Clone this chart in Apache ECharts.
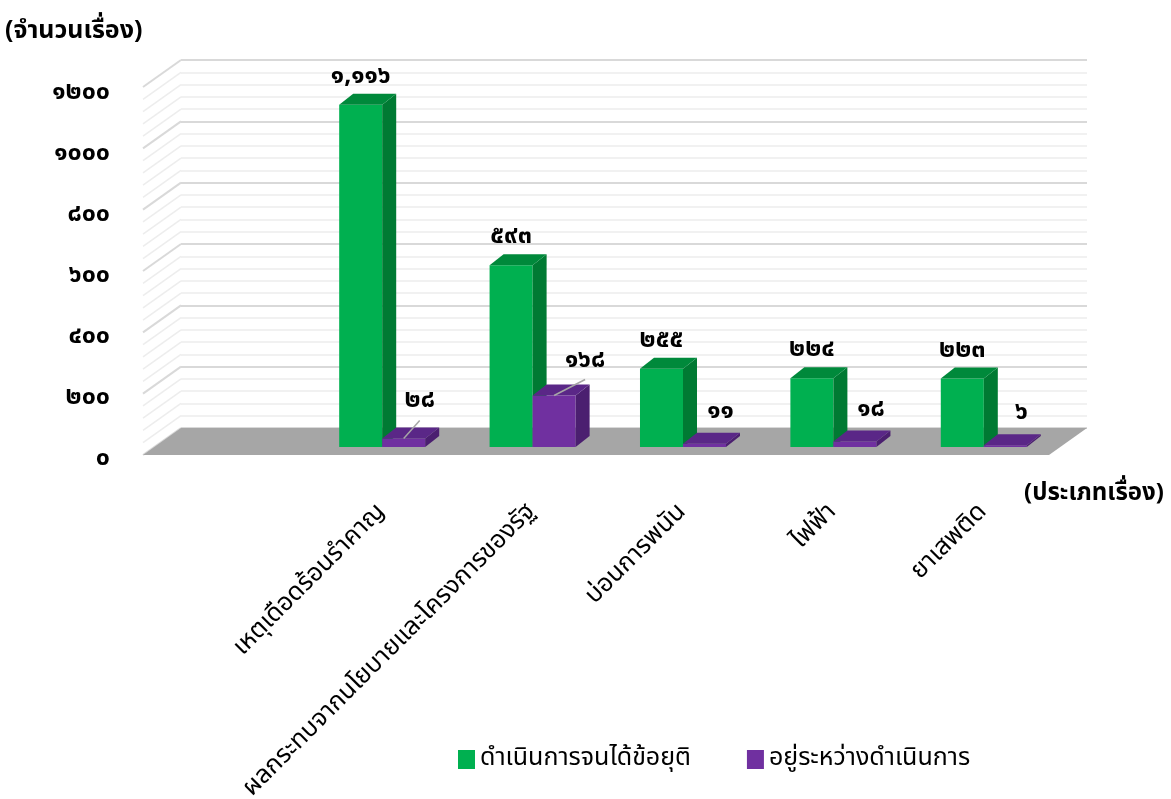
<!DOCTYPE html>
<html>
<head>
<meta charset="utf-8">
<script src="https://cdn.jsdelivr.net/npm/echarts@6/dist/echarts.min.js"></script>
<style>
html, body { margin: 0; padding: 0; background: #fff; }
#chart { width: 1171px; height: 799px; }
</style>
</head>
<body>
<div id="chart"></div>
<script>
// data
const categories = ['เหตุเดือดร้อนรำคาญ', 'ผลกระทบจากนโยบายและโครงการของรัฐ', 'บ่อนการพนัน', 'ไฟฟ้า', 'ยาเสพติด'];
const doneValues = [1116, 593, 255, 224, 223];
const pendingValues = [28, 168, 11, 18, 6];
const seriesNames = ['ดำเนินการจนได้ข้อยุติ', 'อยู่ระหว่างดำเนินการ'];
const yMin = 0, yMax = 1200, yStep = 200;

const FONT = "'Noto Sans Thai', 'Leelawadee UI', Tahoma, 'Noto Sans', sans-serif";
const thaiDigits = '๐๑๒๓๔๕๖๗๘๙';
function toThai(n, sep) {
    const s = sep ? n.toLocaleString('en-US') : String(n);
    return s.replace(/[0-9]/g, function (d) { return thaiDigits[d]; });
}

// bar depth (fake 3d)
const DX = 14, DY = -11;
const green = { front: '#00b050', side: '#007a33', top: '#00893b' };
const purple = { front: '#7030a0', side: '#4b1f70', top: '#5a2787' };
const labelFont = 'bold 25px ' + FONT;

function barRenderer(colors, isLeft) {
    return function (params, api) {
        const ci = api.value(0), v = api.value(1);
        const top = api.coord([ci, v]);
        const base = api.coord([ci, 0]);
        const bw = api.size([1, 0])[0] * 0.286;
        const x1 = isLeft ? top[0] - bw : top[0];
        const x2 = x1 + bw;
        const yT = top[1], yB = base[1];
        const children = [
            { type: 'rect', shape: { x: x1, y: yT, width: bw, height: yB - yT }, style: { fill: colors.front } },
            { type: 'polygon', shape: { points: [[x2, yB], [x2, yT], [x2 + DX, yT + DY], [x2 + DX, yB + DY]] }, style: { fill: colors.side } },
            { type: 'polygon', shape: { points: [[x1, yT], [x2, yT], [x2 + DX, yT + DY], [x1 + DX, yT + DY]] }, style: { fill: colors.top } }
        ];
        const cx = x1 + bw / 2;
        const i = params.dataIndex;
        if (isLeft) {
            children.push({ type: 'text', x: cx, y: yT - 27, style: { text: toThai(v, true), align: 'center', verticalAlign: 'middle', font: labelFont, fill: '#000' } });
        } else {
            // Excel-like moved labels with leader lines for the first two
            const shiftX = i === 1 ? 31 : 16;
            const shiftY = i === 0 ? -36 : (i === 1 ? -34 : -31);
            const lx = cx + shiftX, ly = yT + shiftY;
            if (i <= 1) {
                children.push({ type: 'line', shape: { x1: cx, y1: yT, x2: lx, y2: ly + 18 }, style: { stroke: '#a6a6a6', lineWidth: 1.5 } });
            }
            children.push({ type: 'text', x: lx, y: ly, style: { text: toThai(v, true), align: 'center', verticalAlign: 'middle', font: labelFont, fill: '#000' } });
        }
        return { type: 'group', children: children };
    };
}

const chart = echarts.init(document.getElementById('chart'));
chart.setOption({
    backgroundColor: '#fff',
    animation: false,
    textStyle: { fontFamily: FONT },
    title: [
        { text: '(จำนวนเรื่อง)', left: 5, top: 20, padding: 0, textStyle: { fontSize: 25, fontWeight: 'bold', color: '#000', fontFamily: FONT } },
        { text: '(ประเภทเรื่อง)', left: 1024, top: 483, padding: 0, textStyle: { fontSize: 24, fontWeight: 'bold', color: '#000', fontFamily: FONT } }
    ],
    legend: {
        data: seriesNames,
        left: 453, top: 742,
        icon: 'rect', itemWidth: 17, itemHeight: 19, itemGap: 56,
        textStyle: { fontSize: 25, color: '#000', fontFamily: FONT }
    },
    grid: [
        { left: 307, right: 112, top: 79, bottom: 352, outerBoundsMode: 'none' },
        { left: 181, right: 84, top: 60, bottom: 371, outerBoundsMode: 'none' },
        { left: 143, right: 900, top: 94, bottom: 339, outerBoundsMode: 'none' }
    ],
    xAxis: [
        {
            type: 'category', gridIndex: 0, data: categories,
            axisLine: { show: false }, axisTick: { show: false },
            axisLabel: { rotate: 45, margin: 62, fontSize: 25, color: '#000', interval: 0, fontFamily: FONT }
        },
        { type: 'value', gridIndex: 1, min: 0, max: 1, show: false },
        { type: 'value', gridIndex: 2, min: 0, max: 1, show: false }
    ],
    yAxis: [
        {
            type: 'value', gridIndex: 0, min: yMin, max: yMax, interval: yStep, show: false
        },
        {
            type: 'value', gridIndex: 1, min: yMin, max: yMax, interval: yStep,
            axisLine: { show: false }, axisTick: { show: false }, axisLabel: { show: false },
            splitLine: { show: true, lineStyle: { color: '#d9d9d9', width: 2 } },
            minorTick: { show: false, splitNumber: 5 },
            minorSplitLine: { show: true, lineStyle: { color: '#ededed', width: 1.5 } }
        },
        {
            type: 'value', gridIndex: 2, min: yMin, max: yMax, interval: yStep,
            axisLine: { show: false }, axisTick: { show: false }, splitLine: { show: false },
            axisLabel: {
                margin: 33, fontSize: 25, fontWeight: 'bold', color: '#000', fontFamily: FONT,
                formatter: function (v) { return toThai(v, false); }
            }
        }
    ],
    series: [
        {
            type: 'custom', xAxisIndex: 1, yAxisIndex: 1, z: 1, silent: true,
            data: [[0, 0]],
            renderItem: function (params, api) {
                const cs = params.coordSys;
                const children = [];
                const minorStep = yStep / 5;
                for (let v = yMin; v <= yMax; v += minorStep) {
                    const y = api.coord([0, v])[1];
                    const major = v % yStep === 0;
                    children.push({ type: 'line', shape: { x1: cs.x - 38, y1: y + 27, x2: cs.x, y2: y },
                        style: { stroke: major ? '#d9d9d9' : '#ededed', lineWidth: major ? 2 : 1.5 } });
                }
                const y0 = api.coord([0, 0])[1];
                children.push({ type: 'polygon', shape: { points: [[cs.x - 38, y0 + 27], [cs.x, y0], [cs.x + cs.width, y0], [cs.x + cs.width - 38, y0 + 27]] },
                    style: { fill: '#a6a6a6' } });
                return { type: 'group', children: children };
            }
        },
        {
            name: seriesNames[0], type: 'custom', z: 3,
            itemStyle: { color: green.front },
            data: doneValues.map(function (v, i) { return [i, v]; }),
            renderItem: barRenderer(green, true)
        },
        {
            name: seriesNames[1], type: 'custom', z: 4,
            itemStyle: { color: purple.front },
            data: pendingValues.map(function (v, i) { return [i, v]; }),
            renderItem: barRenderer(purple, false)
        }
    ]
});
</script>
</body>
</html>
